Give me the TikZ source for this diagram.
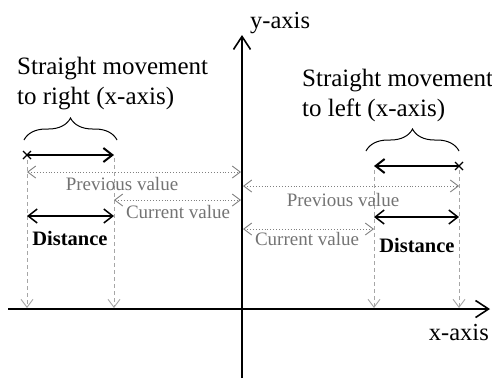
\documentclass[tikz,border=0pt]{standalone}
\usepackage{fontspec}
\setmainfont{Liberation Serif}
\usetikzlibrary{arrows.meta,decorations.pathreplacing,calc}
\begin{document}
\begin{tikzpicture}[x=1pt,y=-1pt,
  axisline/.style={line width=1.6pt,-{Straight Barb[length=13pt,width=17pt,line width=1.6pt]}},
  move/.style={line width=2pt,-{Straight Barb[length=9pt,width=14pt,line width=2pt]}},
  distarrow/.style={line width=1.5pt,{Straight Barb[length=9pt,width=14pt,line width=1.5pt]}-{Straight Barb[length=9pt,width=14pt,line width=1.5pt]}},
  valarrow/.style={line width=0.9pt,dotted,color=black!50,{Straight Barb[length=8pt,width=12pt,line width=0.9pt,sep=0pt]}-{Straight Barb[length=8pt,width=12pt,line width=0.9pt]}},
  drop/.style={line width=0.9pt,dashed,dash pattern=on 4pt off 3pt,color=black!35,-{Straight Barb[length=8pt,width=12pt,line width=0.9pt]}},
  title/.style={font=\fontsize{25}{30}\selectfont,align=left,inner sep=0pt},
  axislabel/.style={font=\fontsize{24.5}{28}\selectfont,inner sep=0pt},
  vallabel/.style={font=\fontsize{19}{22}\selectfont,text=black!55,inner sep=0pt},
  distlabel/.style={font=\fontsize{20.5}{24}\selectfont\bfseries,inner sep=0pt},
  bracestyle/.style={line width=1pt,decorate,decoration={brace,amplitude=22pt}},
  crossmark/.style={line width=1.2pt}
]
\useasboundingbox (0,0) rectangle (492,378);

% axes
\coordinate (ybot) at (242,378);
\coordinate (ytop) at (242,35);
\coordinate (xl) at (8,309);
\coordinate (xr) at (490,309);
\draw[axisline] (ybot) -- (ytop);
\draw[axisline] (xl) -- (xr);
\node[axislabel,anchor=west] (ylab) at (250,23) {y-axis};
\node[axislabel,anchor=east] (xlab) at (489,333) {x-axis};

% titles
\node[title,anchor=north west] (tl) at (17,57) {Straight movement\\to right (x-axis)};
\node[title,anchor=north west] (tr) at (302,69) {Straight movement\\to left (x-axis)};

% key points
\coordinate (L1) at (27,155);
\coordinate (L2) at (114,155);
\coordinate (R1) at (459,166);
\coordinate (R2) at (374,166);

% braces
\coordinate (bl1) at (24,140);
\coordinate (bl2) at (117,140);
\coordinate (br1) at (366,151);
\coordinate (br2) at (459,151);
\draw[bracestyle] (bl1) -- (bl2);
\draw[bracestyle] (br1) -- (br2);

% movement arrows
\draw[move] (L1) -- (L2);
\draw[move] (R1) -- (R2);
\draw[crossmark] ($(L1)+(-4,-4)$) -- ($(L1)+(4,4)$) ($(L1)+(-4,4)$) -- ($(L1)+(4,-4)$);
\draw[crossmark] ($(R1)+(-4,-4)$) -- ($(R1)+(4,4)$) ($(R1)+(-4,4)$) -- ($(R1)+(4,-4)$);

% drop lines
\coordinate (dl1t) at (27,160);
\coordinate (dl1b) at (27,308);
\coordinate (dl2t) at (114,158);
\coordinate (dl2b) at (114,308);
\coordinate (dr1t) at (374,170);
\coordinate (dr1b) at (374,308);
\coordinate (dr2t) at (459,170);
\coordinate (dr2b) at (459,308);
\draw[drop] (dl1t) -- (dl1b);
\draw[drop] (dl2t) -- (dl2b);
\draw[drop] (dr1t) -- (dr1b);
\draw[drop] (dr2t) -- (dr2b);

% left value arrows
\coordinate (pl1) at (27,172);
\coordinate (pl2) at (241,172);
\draw[valarrow] (pl1) -- (pl2);
\node[vallabel] (plab) at (122,184) {Previous value};
\coordinate (cl1) at (114,200);
\coordinate (cl2) at (241,200);
\draw[valarrow] (cl1) -- (cl2);
\node[vallabel] (clab) at (178,212) {Current value};
\coordinate (dl1) at (27,216);
\coordinate (dl2) at (114,216);
\draw[distarrow] (dl1) -- (dl2);
\node[distlabel] (dlab) at (70,238) {Distance};

% right value arrows
\coordinate (pr1) at (243,186);
\coordinate (pr2) at (459,186);
\draw[valarrow] (pr1) -- (pr2);
\node[vallabel] (prab) at (343,200) {Previous value};
\coordinate (cr1) at (243,229);
\coordinate (cr2) at (374,229);
\draw[valarrow] (cr1) -- (cr2);
\node[vallabel] (crab) at (307,239) {Current value};
\coordinate (dr1) at (374,217);
\coordinate (dr2) at (459,217);
\draw[distarrow] (dr1) -- (dr2);
\node[distlabel] (drab) at (417,245) {Distance};
\end{tikzpicture}
\end{document}
